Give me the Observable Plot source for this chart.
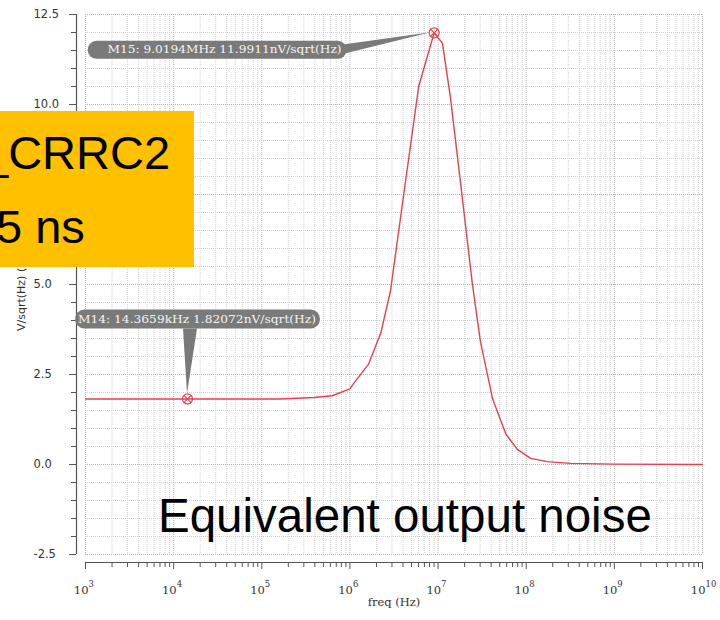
<!DOCTYPE html>
<html><head><meta charset="utf-8">
<script src="https://cdn.jsdelivr.net/npm/d3@7"></script>
<script src="https://cdn.jsdelivr.net/npm/@observablehq/plot@0.6"></script>
<style>
body{margin:0;background:#fff;}
#wrap{position:relative;width:720px;height:620px;overflow:hidden;}
.ov{position:absolute;font-family:"Liberation Sans",Arial,sans-serif;line-height:1;white-space:nowrap;color:#000;}
</style></head><body>
<div id="wrap"></div>
<script>
// ---- data ----
const logFreq = [3.0, 4.0, 5.0, 5.2, 5.4, 5.6, 5.8, 6.0, 6.06, 6.21, 6.35, 6.46, 6.6, 6.78, 6.955, 7.05, 7.14, 7.28, 7.39, 7.48, 7.62, 7.77, 7.9, 8.05, 8.24, 8.5, 9.0, 10.0];
const noise   = [1.82, 1.82, 1.82, 1.82, 1.84, 1.86, 1.91, 2.1, 2.31, 2.78, 3.65, 4.82, 7.32, 10.5, 11.99, 11.7, 10.2, 7.3, 5.0, 3.42, 1.81, 0.84, 0.42, 0.17, 0.08, 0.03, 0.01, 0.0];

const markerFreq  = [14365.9, 9.0194e6];
const markerValue = [1.82072, 11.9911];
const markerText  = ["M14: 14.3659kHz 1.82072nV/sqrt(Hz)", "M15: 9.0194MHz 11.9911nV/sqrt(Hz)"];

const xDecades   = [1e3, 1e4, 1e5, 1e6, 1e7, 1e8, 1e9, 1e10];
const xExponents = ["3", "4", "5", "6", "7", "8", "9", "10"];
const yTicks      = [-2.5, 0, 2.5, 5, 7.5, 10, 12.5];
const yTickLabels = ["-2.5", "0.0", "2.5", "5.0", "7.5", "10.0", "12.5"];
const yMinorStep = 0.5;
const xLabel = "freq (Hz)";
const yLabel = "V/sqrt(Hz) (nV)";

const titleLine1 = "_CRRC2";
const titleLine2 = "5 ns";
const caption = "Equivalent output noise";

// ---- derived tables ----
const curve = logFreq.map((lf, i) => ({f: Math.pow(10, lf), v: noise[i]}));
const markers = markerFreq.map((f, i) => ({f, v: markerValue[i], text: markerText[i]}));
const xMinor = [];
xDecades.slice(0, -1).forEach(d => { for (let k = 2; k <= 9; k++) xMinor.push(k * d); });
const yMinor = d3.range(-2.5, 12.5 + 1e-9, yMinorStep).filter(v => !yTicks.some(t => Math.abs(t - v) < 1e-9));

const axisColor = "#555";
const red = "#e8404a";

// callout layout (pixel offsets from the marker point)
const calloutLayout = [
  {bx: -112, by: -89, bw: 245, bh: 19, tx: -109, tl: 238, ptr: [[0, -5], [-4, -70], [10, -70]]},
  {bx: -346, by: 8.5, bw: 259, bh: 18, tx: -326, tl: 234, ptr: [[-3, 0], [-96, 13], [-92, 22]]}
];

function callouts(index, scales) {
  const g = d3.create("svg:g");
  markers.forEach((m, i) => {
    const px = scales.x(m.f), py = scales.y(m.v), L = calloutLayout[i];
    g.append("polygon")
      .attr("points", L.ptr.map(([dx, dy]) => `${px + dx},${py + dy}`).join(" "))
      .attr("fill", "#7a7a7a");
    g.append("rect")
      .attr("x", px + L.bx).attr("y", py + L.by)
      .attr("width", L.bw).attr("height", L.bh)
      .attr("rx", L.bh / 2).attr("fill", "#7a7a7a");
    g.append("text")
      .attr("x", px + L.tx).attr("y", py + L.by + L.bh / 2)
      .attr("dy", "0.35em")
      .attr("text-anchor", "start")
      .attr("textLength", L.tl).attr("lengthAdjust", "spacingAndGlyphs")
      .attr("fill", "#f4f4f4")
      .attr("font-family", "DejaVu Serif")
      .attr("font-size", 10.5)
      .text(m.text);
  });
  return g.node();
}

// y axis title, placed left of the tick labels
function yTitle(index, scales, values, dimensions) {
  const {marginTop, marginBottom, height} = dimensions;
  const cy = (marginTop + height - marginBottom) / 2;
  const g = d3.create("svg:g");
  g.append("text")
    .attr("transform", `translate(25,${cy + 47}) rotate(-90)`)
    .attr("text-anchor", "start")
    .attr("fill", "#333")
    .attr("font-family", "DejaVu Sans")
    .attr("font-size", 11)
    .text(yLabel);
  return g.node();
}

const chart = Plot.plot({
  width: 720,
  height: 620,
  marginLeft: 85,
  marginRight: 18,
  marginTop: 14,
  marginBottom: 66,
  style: {background: "transparent", fontFamily: "DejaVu Sans"},
  x: {type: "log", domain: [1e3, 1e10]},
  y: {type: "linear", domain: [-2.5, 12.5]},
  marks: [
    // grid
    Plot.ruleX(xMinor, {stroke: "#d0d0d0", strokeDasharray: "1,1"}),
    Plot.ruleY(yMinor, {stroke: "#d0d0d0", strokeDasharray: "1,1"}),
    Plot.ruleX(xDecades, {stroke: "#b4b4b4", strokeDasharray: "1,1"}),
    Plot.ruleY(yTicks, {stroke: "#b4b4b4", strokeDasharray: "1,1"}),
    // axes
    Plot.ruleX([1e3], {dx: -9, stroke: axisColor, strokeWidth: 1.2}),
    Plot.axisY(yMinor, {anchor: "left", tickSize: 5, dx: -9, stroke: axisColor, fill: "none", label: null}),
    Plot.axisY(yTicks, {anchor: "left", tickSize: 7, dx: -9, stroke: axisColor, fill: "none", label: null}),
    Plot.text(yTicks, {y: d => d, text: (d, i) => yTickLabels[i], frameAnchor: "left", textAnchor: "start", dx: -52, fontSize: 11.5, fontFamily: "DejaVu Sans", fill: "#333"}),
    yTitle,
    Plot.ruleY([-2.5], {dy: 8, stroke: axisColor, strokeWidth: 1.2}),
    Plot.axisX(xMinor, {anchor: "bottom", tickSize: 5, dy: 8, stroke: axisColor, fill: "none", label: null}),
    Plot.axisX(xDecades, {anchor: "bottom", tickSize: 7, dy: 8, stroke: axisColor, fill: "none", label: null}),
    Plot.text(xDecades, {x: d => d, text: () => "10", frameAnchor: "bottom", textAnchor: "end", dx: 3, dy: 39, fontSize: 11.5, fontFamily: "DejaVu Serif", fill: "#333"}),
    Plot.text(xDecades, {x: d => d, text: (d, i) => xExponents[i], frameAnchor: "bottom", textAnchor: "start", dx: 3, dy: 32.5, fontSize: 8.5, fontFamily: "DejaVu Serif", fill: "#333"}),
    Plot.text([xLabel], {x: () => Math.pow(10, 6.5), text: d => d, frameAnchor: "bottom", dy: 51, fontSize: 11.5, fontFamily: "DejaVu Serif", fill: "#333"}),
    // data
    Plot.line(curve, {x: "f", y: "v", stroke: red, strokeWidth: 1.4}),
    callouts,
    Plot.dot(markers, {x: "f", y: "v", r: 5, stroke: red, fill: "none", strokeWidth: 1.2}),
    Plot.dot(markers, {x: "f", y: "v", r: 3.2, symbol: "times", stroke: red, fill: "none", strokeWidth: 1.1})
  ]
});

const wrap = document.getElementById("wrap");
wrap.appendChild(chart);

// slide annotations overlaid on the chart
const box = document.createElement("div");
box.style.cssText = "position:absolute;left:0;top:111px;width:194px;height:156px;background:#FFC000;";
wrap.appendChild(box);
function overlay(text, left, top, size) {
  const d = document.createElement("div");
  d.className = "ov";
  d.style.left = left + "px";
  d.style.top = top + "px";
  d.style.fontSize = size + "px";
  d.textContent = text;
  wrap.appendChild(d);
}
overlay(titleLine1, -18, 129, 47);
overlay(titleLine2, -4, 203, 47);
overlay(caption, 158, 492, 47.5);
</script>
</body></html>
